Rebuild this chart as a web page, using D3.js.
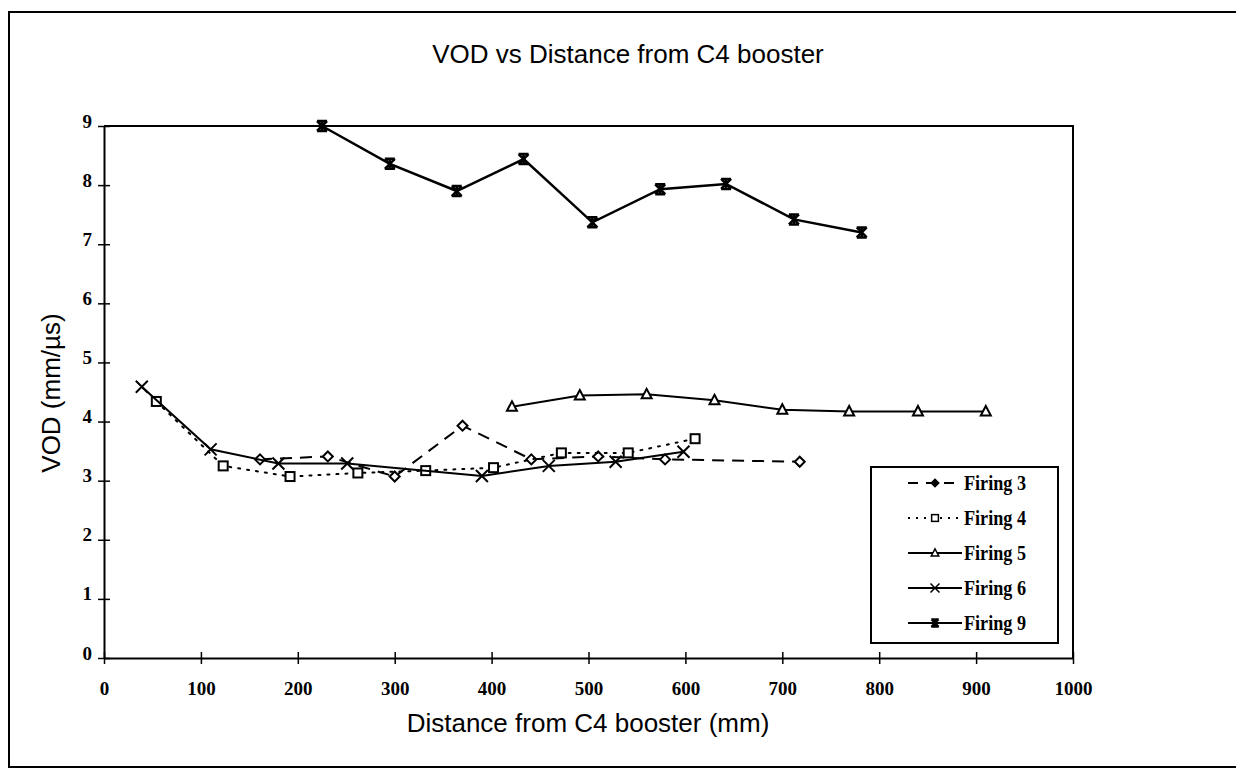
<title>VOD vs Distance from C4 booster</title>
<script src="https://cdn.jsdelivr.net/npm/d3@7"></script>
<style>
    body { margin: 0; background: #fff; }
    .tick text { font-family: "Liberation Serif", "Times New Roman", serif; font-weight: bold; font-size: 19px; fill: #000; }
    .sans { font-family: "Liberation Sans", Arial, sans-serif; fill: #000; }
    .leg { font-family: "Liberation Serif", "Times New Roman", serif; font-weight: bold; font-size: 20px; fill: #000; }
</style>
<svg width="1236" height="770"></svg>

<script>
    // data (distance in mm, VOD in mm/µs)
    const f3x = [161, 231, 300, 370, 441, 510, 579, 718];
    const f3y = [3.36, 3.41, 3.07, 3.93, 3.36, 3.41, 3.36, 3.32];
    const f4x = [54, 123, 192, 262, 332, 402, 472, 541, 610];
    const f4y = [4.34, 3.25, 3.07, 3.13, 3.17, 3.22, 3.47, 3.47, 3.71];
    const f5x = [421, 491, 560, 630, 700, 769, 840, 910];
    const f5y = [4.25, 4.44, 4.46, 4.36, 4.20, 4.17, 4.17, 4.17];
    const f6x = [39, 110, 180, 251, 390, 459, 528, 598];
    const f6y = [4.59, 3.53, 3.29, 3.29, 3.08, 3.25, 3.32, 3.49];
    const f9x = [225, 295, 364, 433, 504, 574, 642, 712, 782];
    const f9y = [9.0, 8.36, 7.90, 8.44, 7.37, 7.93, 8.02, 7.42, 7.20];

    const seriesNames = ["Firing 3", "Firing 4", "Firing 5", "Firing 6", "Firing 9"];
    const xTicks = [0, 100, 200, 300, 400, 500, 600, 700, 800, 900, 1000];
    const yTicks = [0, 1, 2, 3, 4, 5, 6, 7, 8, 9];

    const series = [
        { name: seriesNames[0], xs: f3x, ys: f3y, dash: "12,8", marker: "diamond" },
        { name: seriesNames[1], xs: f4x, ys: f4y, dash: "2,7", marker: "square" },
        { name: seriesNames[2], xs: f5x, ys: f5y, dash: null, marker: "triangle" },
        { name: seriesNames[3], xs: f6x, ys: f6y, dash: null, marker: "cross" },
        { name: seriesNames[4], xs: f9x, ys: f9y, dash: null, marker: "star" },
    ];

    const svg = d3.select("svg");

    // outer frame of the scanned figure
    svg.append("rect")
        .attr("x", 9).attr("y", 12)
        .attr("width", 1260).attr("height", 755)
        .attr("fill", "none").attr("stroke", "#000").attr("stroke-width", 2);

    const x = d3.scaleLinear().domain([0, 1000]).range([104, 1073]);
    const y = d3.scaleLinear().domain([0, 9]).range([658, 126]);

    // plot box (top and right edges)
    svg.append("path")
        .attr("d", `M${x(0)},${y(9)}H${x(1000)}V${y(0)}`)
        .attr("fill", "none").attr("stroke", "#000").attr("stroke-width", 2);

    // x axis
    svg.append("g")
        .attr("transform", `translate(0,${y(0)})`)
        .call(d3.axisBottom(x).tickValues(xTicks).tickSizeOuter(0).tickFormat(d3.format("d")))
        .call(g => g.select(".domain").attr("stroke-width", 2))
        .call(g => g.selectAll(".tick line").attr("y1", -6).attr("y2", 6).attr("stroke-width", 1.5))
        .call(g => g.selectAll(".tick text").attr("y", 37).attr("dy", 0));

    // y axis
    svg.append("g")
        .attr("transform", `translate(${x(0)},0)`)
        .call(d3.axisLeft(y).tickValues(yTicks).tickSizeOuter(0).tickFormat(d3.format("d")))
        .call(g => g.select(".domain").attr("stroke-width", 2))
        .call(g => g.selectAll(".tick line").attr("x1", -6).attr("x2", 6).attr("stroke-width", 1.5))
        .call(g => g.selectAll(".tick text").attr("x", -12).attr("y", 1).attr("dy", 0));

    // titles
    svg.append("text").attr("class", "sans")
        .attr("x", 628).attr("y", 63)
        .attr("text-anchor", "middle").attr("font-size", 26)
        .text("VOD vs Distance from C4 booster");
    svg.append("text").attr("class", "sans")
        .attr("x", 588).attr("y", 732)
        .attr("text-anchor", "middle").attr("font-size", 26)
        .text("Distance from C4 booster (mm)");
    svg.append("text").attr("class", "sans")
        .attr("transform", "translate(60,393) rotate(-90)")
        .attr("text-anchor", "middle").attr("font-size", 26)
        .text("VOD (mm/µs)");

    // marker drawing
    function drawMarker(g, type, cx, cy, k = 1, filled = false) {
        const m = g.append("g").attr("transform", `translate(${cx},${cy}) scale(${k})`)
            .attr("stroke", "#000").attr("stroke-width", 2);
        const fill = filled ? "#000" : "#fff";
        if (type === "diamond") {
            m.append("path").attr("d", "M0,-5L5,0L0,5L-5,0Z").attr("fill", fill);
        } else if (type === "square") {
            m.append("rect").attr("x", -4.5).attr("y", -4.5).attr("width", 9).attr("height", 9).attr("fill", "#fff");
        } else if (type === "triangle") {
            m.append("path").attr("d", "M0,-5.5L5,4L-5,4Z").attr("fill", "#fff");
        } else if (type === "cross") {
            m.append("path").attr("d", "M-6,-6L6,6M-6,6L6,-6").attr("fill", "none");
        } else {
            m.append("path").attr("d", "M-5,-5L5,5M-5,5L5,-5M0,-6V6M-5,-5H5M-5,5H5")
                .attr("fill", "none").attr("stroke-width", 2.5);
        }
    }

    const line = d3.line().x(d => x(d[0])).y(d => y(d[1]));

    series.forEach(s => {
        const pts = s.xs.map((v, i) => [v, s.ys[i]]);
        svg.append("path")
            .datum(pts)
            .attr("d", line)
            .attr("fill", "none")
            .attr("stroke", "#000")
            .attr("stroke-width", s.marker === "star" ? 2.5 : 2)
            .attr("stroke-dasharray", s.dash)
            .attr("stroke-linecap", s.dash === "2,7" ? "round" : "butt");
        const mg = svg.append("g");
        pts.forEach(p => drawMarker(mg, s.marker, x(p[0]), y(p[1])));
    });

    // legend
    const lg = svg.append("g");
    lg.append("rect")
        .attr("x", 871).attr("y", 467).attr("width", 187).attr("height", 176)
        .attr("fill", "#fff").attr("stroke", "#000").attr("stroke-width", 2);
    series.forEach((s, i) => {
        const ly = 483 + i * 35;
        lg.append("line")
            .attr("x1", 908).attr("x2", 962).attr("y1", ly).attr("y2", ly)
            .attr("stroke", "#000").attr("stroke-width", 2)
            .attr("stroke-dasharray", s.dash ? (s.dash === "2,7" ? "2,6" : "10,8") : null);
        drawMarker(lg, s.marker, 935, ly, 0.75, s.marker === "diamond");
        lg.append("text").attr("class", "leg")
            .attr("x", 964).attr("y", ly + 7)
            .attr("textLength", 62).attr("lengthAdjust", "spacingAndGlyphs")
            .text(s.name);
    });
</script>
